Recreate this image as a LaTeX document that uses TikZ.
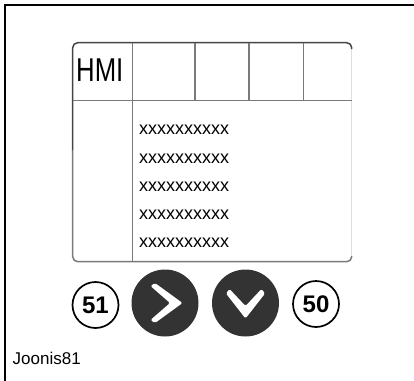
\documentclass[tikz,border=0pt]{standalone}
\usepackage{fontspec}
\setmainfont{Liberation Sans}
\usetikzlibrary{calc}
\definecolor{darkbtn}{HTML}{333333}
\definecolor{edgedark}{HTML}{444444}
\definecolor{edgemid}{HTML}{7A7A7A}
\definecolor{edgelight}{HTML}{DDDDDD}
\tikzset{
  numcircle/.style={circle,draw=black,line width=1.7pt,minimum size=46pt,inner sep=0pt,
    font=\fontsize{24}{24}\selectfont\bfseries},
  darkcircle/.style={circle,fill=darkbtn,minimum size=67pt,inner sep=0pt},
  xline/.style={anchor=west,inner sep=0pt,font=\fontsize{18}{18}\selectfont},
  chev/.style={fill=white,draw=none,rounded corners=1.5pt},
}
\begin{document}
\begin{tikzpicture}[x=1pt,y=-1pt]
\useasboundingbox (0,0) rectangle (414,380);
% outer frame (cropped)
\coordinate (fbl) at (5,381);
\coordinate (ftl) at (5,5);
\coordinate (ftr) at (415,5);
\draw[line width=1.5pt,black] (fbl) -- (ftl) -- (ftr);
% screen box
\coordinate (stl) at (72.7,42.7);
\coordinate (str) at (351.7,42.7);
\coordinate (sbl) at (72.7,261.7);
\coordinate (sbr) at (351.7,261.7);
\draw[edgelight,line width=1.5pt] (351.7,48) -- (351.7,256);
\draw[edgemid,line width=1.5pt,rounded corners=5pt] (72.7,150) -- (sbl) -- (sbr) -- (351.7,256);
\draw[edgedark,line width=1.5pt,rounded corners=5pt] (72.7,150) -- (stl) -- (str) -- (351.7,49);
% header divider
\draw[edgemid,line width=1.5pt] (72.7,100.7) -- (351.7,100.7);
% vertical dividers
\draw[edgemid,line width=1.5pt] (132.7,42.7) -- (132.7,261.7);
\draw[edgemid,line width=1.5pt] (195,42.7) -- (195,100.7);
\draw[edgemid,line width=1.5pt] (249,42.7) -- (249,100.7);
\draw[edgemid,line width=1.5pt] (303.3,42.7) -- (303.3,100.7);
% texts
\node[anchor=west,inner sep=0pt,font=\fontsize{33}{33}\selectfont] (hmi) at (76,70.5) {\scalebox{0.78}[1]{HMI}};
\node[xline] (x1) at (139,130) {xxxxxxxxxx};
\node[xline] (x2) at (139,158.5) {xxxxxxxxxx};
\node[xline] (x3) at (139,186.5) {xxxxxxxxxx};
\node[xline] (x4) at (139,214.5) {xxxxxxxxxx};
\node[xline] (x5) at (139,242.5) {xxxxxxxxxx};
% buttons
\node[numcircle] (b51) at (95.5,305) {51};
\node[darkcircle] (bright) at (165,303) {};
\node[darkcircle] (bdown) at (245.5,303) {};
\node[numcircle] (b50) at (316,304) {50};
\fill[chev] (155,283) -- (182.5,303) -- (155,323) -- (150.5,320) -- (170,303) -- (150.5,286) -- cycle;
\fill[chev] (226,293.5) -- (245.5,318.5) -- (265,293.5) -- (261.5,289) -- (245.5,306) -- (229.5,289) -- cycle;
% caption
\node[anchor=west,inner sep=0pt,font=\fontsize{17}{17}\selectfont] (cap) at (12.5,358) {Joonis81};
\end{tikzpicture}
\end{document}
